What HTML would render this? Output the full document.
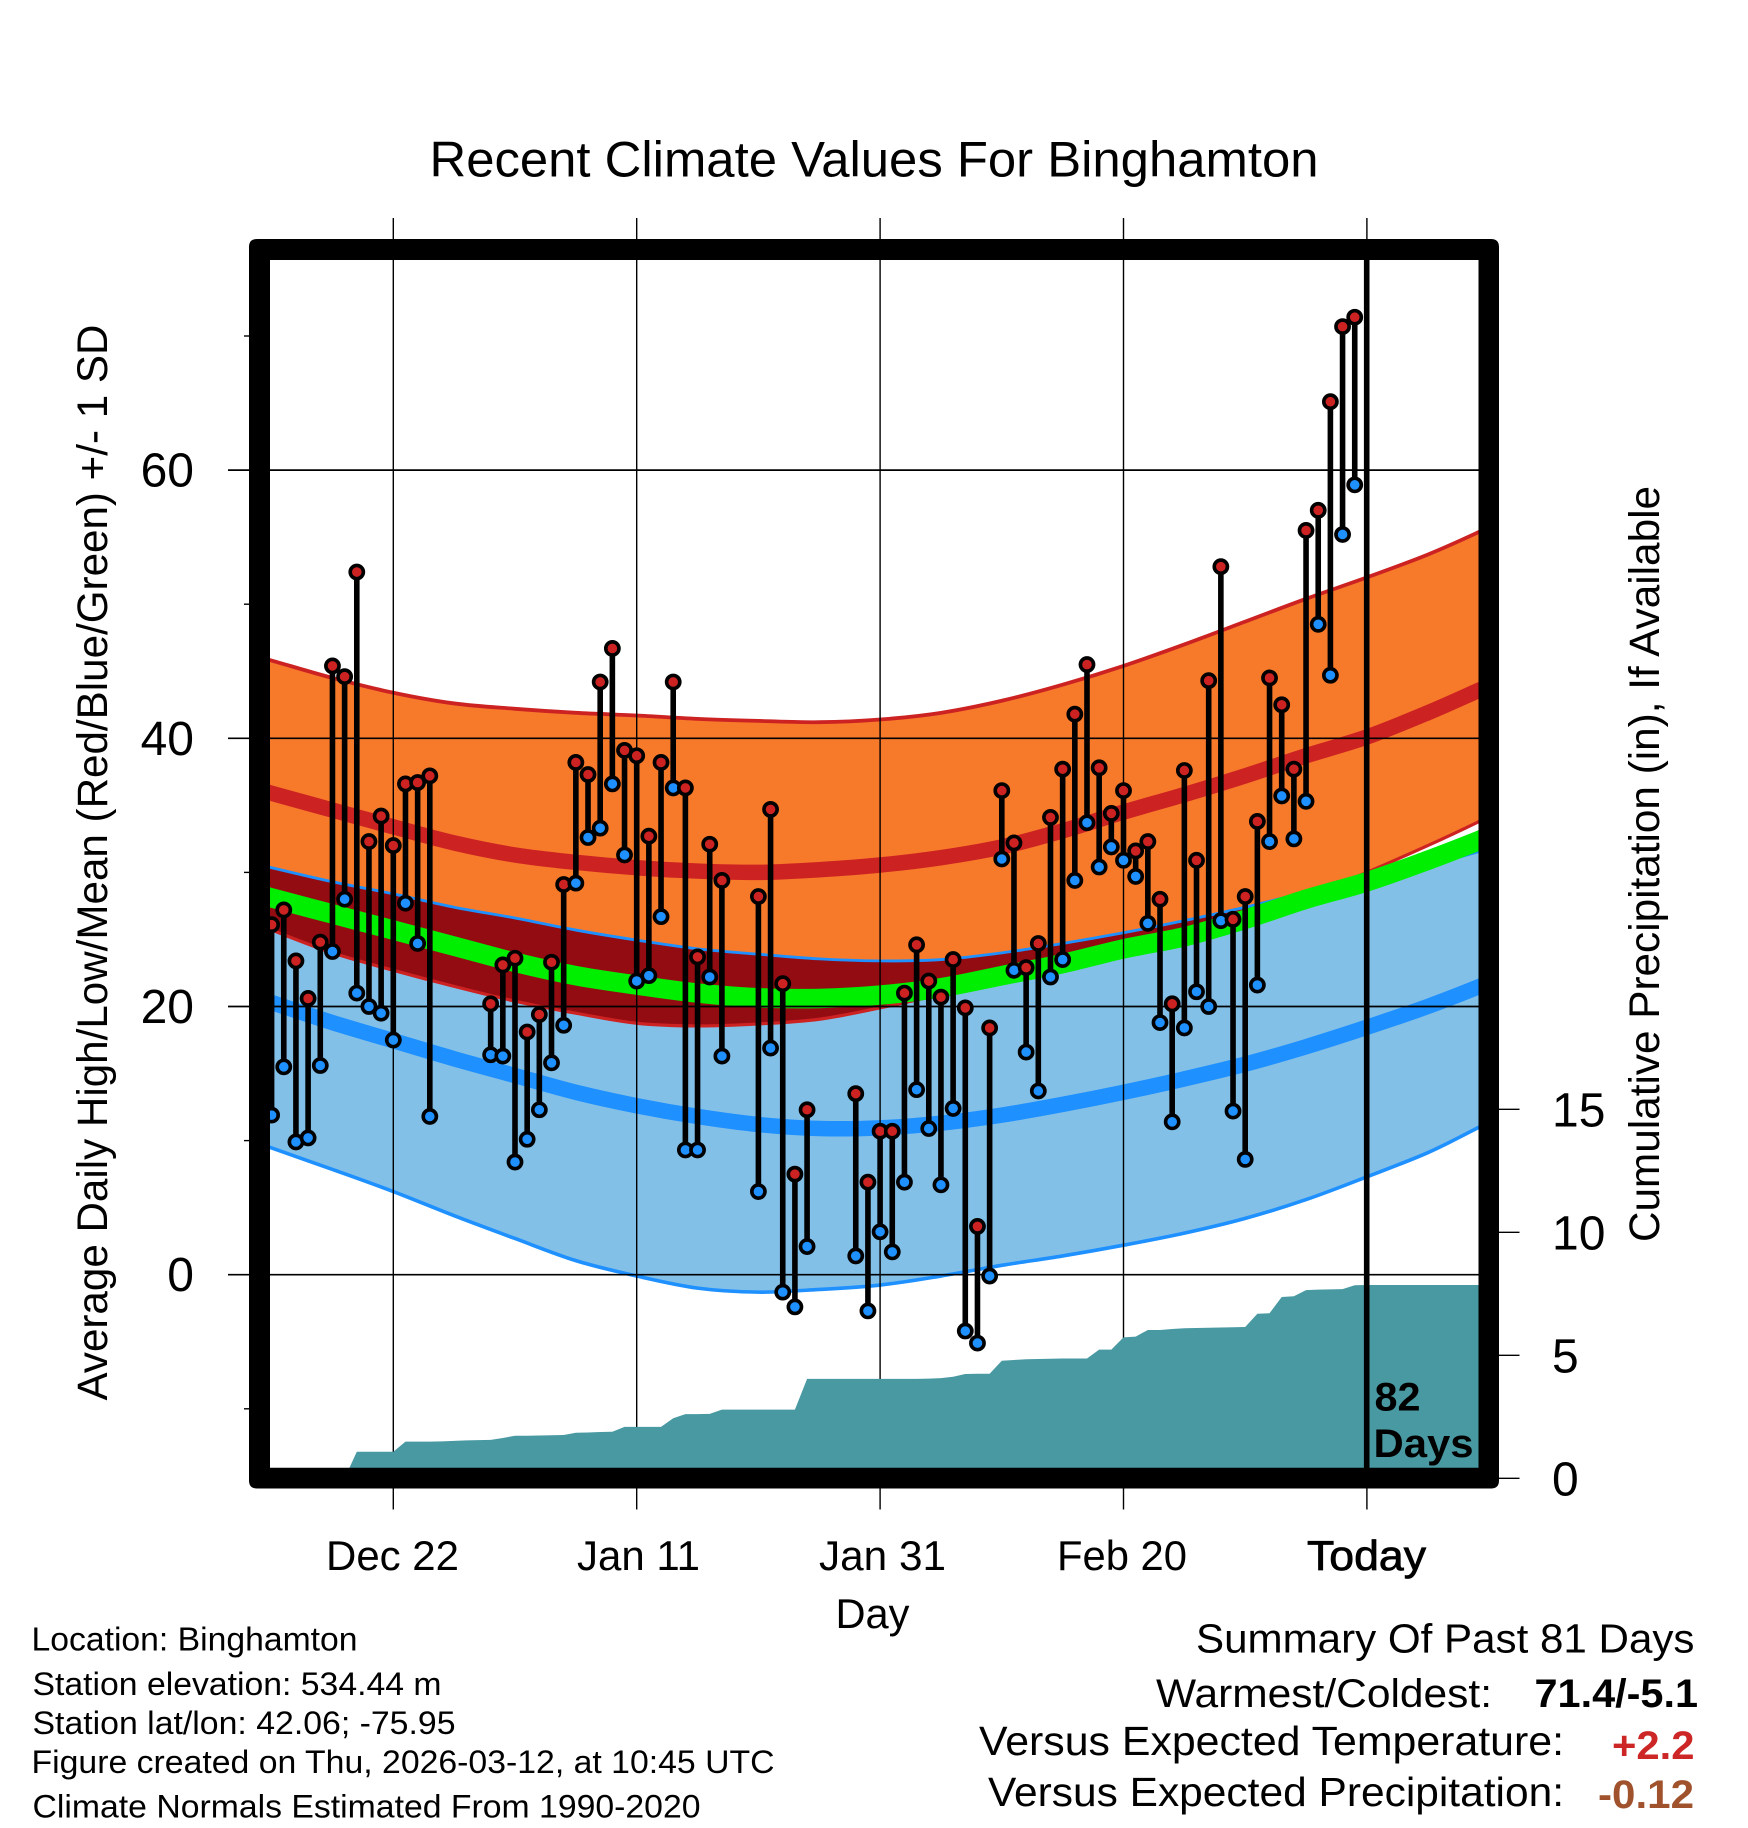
<!DOCTYPE html>
<html lang="en">
<head>
<meta charset="utf-8">
<title>Recent Climate Values For Binghamton</title>
<style>
html,body{margin:0;padding:0;background:#fff;}
svg{display:block;font-family:"Liberation Sans",Arial,Helvetica,sans-serif;}
</style>
</head>
<body>
<svg id="chart" xmlns="http://www.w3.org/2000/svg" width="1748" height="1828" viewBox="0 0 1748 1828">
  <rect x="0" y="0" width="1748" height="1828" fill="#ffffff"/>
  <defs><clipPath id="plot-clip"><rect x="260" y="250" width="1229" height="1228"/></clipPath></defs>
  <g id="bands" clip-path="url(#plot-clip)"></g>
  <g id="grid"></g>
  <g id="precip" clip-path="url(#plot-clip)"></g>
  <g id="marks" clip-path="url(#plot-clip)"></g>
  <line x1="1366.7" x2="1366.7" y1="260" y2="1468" stroke="#000" stroke-width="5.6"/>
  <path fill="#000" fill-rule="evenodd" d="M257 239H1491Q1499 239 1499 247V1480.5Q1499 1488.5 1491 1488.5H257Q249 1488.5 249 1480.5V247Q249 239 257 239ZM270 260V1467.7H1478.5V260Z"/>
  <g id="labels"></g>

  <text x="392.5" y="1570" font-size="42" text-anchor="middle" textLength="133" lengthAdjust="spacingAndGlyphs">Dec 22</text>
  <text x="638.5" y="1570" font-size="42" text-anchor="middle" textLength="123" lengthAdjust="spacingAndGlyphs">Jan 11</text>
  <text x="882.5" y="1570" font-size="42" text-anchor="middle" textLength="127" lengthAdjust="spacingAndGlyphs">Jan 31</text>
  <text x="1122" y="1570" font-size="42" text-anchor="middle" textLength="130" lengthAdjust="spacingAndGlyphs">Feb 20</text>
  <text x="1366.5" y="1570" font-size="42" text-anchor="middle" textLength="119" lengthAdjust="spacingAndGlyphs" stroke="#000" stroke-width="0.8">Today</text>

  <text x="874" y="176.5" font-size="50" text-anchor="middle" textLength="889" lengthAdjust="spacingAndGlyphs">Recent Climate Values For Binghamton</text>
  <text x="872.5" y="1628" font-size="42" text-anchor="middle" textLength="74" lengthAdjust="spacingAndGlyphs">Day</text>
  <text transform="translate(107,862.5) rotate(-90)" font-size="43" text-anchor="middle" textLength="1076" lengthAdjust="spacingAndGlyphs">Average Daily High/Low/Mean (Red/Blue/Green) +/- 1 SD</text>
  <text transform="translate(1659,864) rotate(-90)" font-size="43" text-anchor="middle" textLength="756" lengthAdjust="spacingAndGlyphs">Cumulative Precipitation (in), If Available</text>

  <text x="1374.5" y="1410.7" font-size="40" font-weight="bold" textLength="46" lengthAdjust="spacingAndGlyphs">82</text>
  <text x="1373.5" y="1457" font-size="40" font-weight="bold" textLength="100" lengthAdjust="spacingAndGlyphs">Days</text>

  <text x="31.5" y="1650.7" font-size="33" textLength="326" lengthAdjust="spacingAndGlyphs">Location: Binghamton</text>
  <text x="32.5" y="1695" font-size="32" textLength="409" lengthAdjust="spacingAndGlyphs">Station elevation: 534.44 m</text>
  <text x="32.5" y="1734" font-size="32" textLength="423" lengthAdjust="spacingAndGlyphs">Station lat/lon: 42.06; -75.95</text>
  <text x="31.5" y="1773" font-size="32" textLength="743" lengthAdjust="spacingAndGlyphs">Figure created on Thu, 2026-03-12, at 10:45 UTC</text>
  <text x="32.5" y="1817.7" font-size="32" textLength="668" lengthAdjust="spacingAndGlyphs">Climate Normals Estimated From 1990-2020</text>

  <text x="1196" y="1652.7" font-size="41" textLength="498.5" lengthAdjust="spacingAndGlyphs">Summary Of Past 81 Days</text>
  <text x="1156" y="1707" font-size="40" textLength="336" lengthAdjust="spacingAndGlyphs">Warmest/Coldest:</text>
  <text x="1534.5" y="1707" font-size="40" font-weight="bold" textLength="163.5" lengthAdjust="spacingAndGlyphs">71.4/-5.1</text>
  <text x="979" y="1755" font-size="41" textLength="585" lengthAdjust="spacingAndGlyphs">Versus Expected Temperature:</text>
  <text x="1612" y="1759" font-size="40" font-weight="bold" fill="#CD2626" textLength="82.5" lengthAdjust="spacingAndGlyphs">+2.2</text>
  <text x="988" y="1806" font-size="41" textLength="576" lengthAdjust="spacingAndGlyphs">Versus Expected Precipitation:</text>
  <text x="1598" y="1808" font-size="40" font-weight="bold" fill="#A0522D" textLength="96" lengthAdjust="spacingAndGlyphs">-0.12</text>
</svg>
<script>
// ---- data ----
const xTickDays = [10, 30, 50, 70, 90];
const yMajorTicks = [60, 40, 20, 0];
const yMinorTicks = [70, 50, 30, 10, -10];
const precipTicks = [0, 5, 10, 15];

const dailyHighs = [26.1,27.2,23.4,20.6,24.8,45.4,44.6,52.4,32.3,34.2,32.0,36.6,36.7,37.2,null,null,null,null,20.2,23.1,23.6,18.1,19.4,23.3,29.1,38.2,37.3,44.2,46.7,39.1,38.7,32.7,38.2,44.2,36.3,23.7,32.1,29.4,null,null,28.2,34.7,21.7,7.5,12.3,null,null,null,13.5,6.9,10.7,10.7,21.0,24.6,21.9,20.7,23.5,19.9,3.6,18.4,36.1,32.2,22.9,24.7,34.1,37.7,41.8,45.5,37.8,34.4,36.1,31.6,32.3,28.0,20.2,37.6,30.9,44.3,52.8,26.5,28.2,33.8,44.5,42.5,37.7,55.5,57.0,65.1,70.7,71.4];
const dailyLows = [11.9,15.5,9.9,10.2,15.6,24.1,28.0,21.0,20.0,19.5,17.5,27.7,24.7,11.8,null,null,null,null,16.4,16.3,8.4,10.1,12.3,15.8,18.6,29.2,32.6,33.3,36.6,31.3,21.9,22.3,26.7,36.3,9.3,9.3,22.2,16.3,null,null,6.2,16.9,-1.3,-2.4,2.1,null,null,null,1.4,-2.7,3.2,1.7,6.9,13.8,10.9,6.7,12.4,-4.2,-5.1,-0.1,31.0,22.7,16.6,13.7,22.2,23.5,29.4,33.7,30.4,31.9,30.9,29.7,26.2,18.8,11.4,18.4,21.1,20.0,26.4,12.2,8.6,21.6,32.3,35.7,32.5,35.3,48.5,44.7,55.2,58.9];
const cumulativePrecip = [0,0,0,0,0,0,0,1.08,1.08,1.08,1.08,1.49,1.49,1.49,1.50,1.52,1.54,1.55,1.56,1.64,1.73,1.73,1.74,1.75,1.76,1.85,1.86,1.88,1.89,2.09,2.09,2.09,2.09,2.44,2.61,2.61,2.62,2.79,2.79,2.79,2.79,2.79,2.79,2.79,4.04,4.04,4.04,4.04,4.04,4.04,4.04,4.04,4.04,4.04,4.05,4.07,4.13,4.24,4.25,4.25,4.78,4.81,4.84,4.85,4.86,4.87,4.87,4.87,5.23,5.23,5.73,5.76,6.03,6.03,6.07,6.10,6.11,6.12,6.13,6.14,6.15,6.69,6.71,7.37,7.40,7.65,7.67,7.68,7.69,7.85,7.86,7.86];

const normalDays = [-1,0,5,10,15,20,25,30,35,40,45,50,55,60,65,70,75,80,85,90,95,99,100];
const highPlusSD = [46.0,45.8,44.5,43.4,42.6,42.2,41.9,41.7,41.45,41.3,41.2,41.4,41.9,42.8,44.0,45.4,47.0,48.7,50.4,52.0,53.7,55.3,55.8];
const highMean = [36.2,35.9,34.65,33.4,32.2,31.3,30.75,30.35,30.1,30.0,30.2,30.55,31.1,31.9,33.1,34.5,35.8,37.2,38.7,40.1,41.9,43.5,43.9];
const highMinusSD = [26.0,25.7,24.0,22.7,21.5,20.4,19.5,18.75,18.55,18.7,19.05,19.9,20.9,22.0,23.2,24.4,25.5,26.7,28.1,30.0,32.0,33.7,34.2];
const lowPlusSD = [30.6,30.35,29.3,28.4,27.4,26.6,25.7,24.95,24.3,23.9,23.55,23.4,23.5,24.0,24.7,25.5,26.4,27.4,28.5,29.4,30.5,31.5,31.8];
const lowMean = [20.6,20.3,18.8,17.45,16.1,14.85,13.6,12.6,11.8,11.2,10.9,10.95,11.3,11.9,12.7,13.6,14.6,15.7,17.0,18.45,20.0,21.4,21.8];
const lowMinusSD = [9.8,9.45,7.85,6.2,4.4,2.7,1.05,-0.1,-1.0,-1.3,-1.1,-0.77,-0.1,0.7,1.4,2.2,3.1,4.2,5.6,7.3,9.1,10.9,11.4];
const meanNormal = [28.4,28.1,26.9,25.7,24.5,23.3,22.3,21.6,21.0,20.65,20.6,20.85,21.4,22.3,23.2,24.3,25.2,26.5,28.0,29.3,30.9,32.3,32.7];

// ---- axis functions ----
function xOf(day){ return 393.3 + 12.17 * (day - 10); }
function yOf(temp){ return 1274.7 - 13.41 * temp; }
function yPrecip(inches){ return 1478.3 - 24.6 * inches; }

const NS = "http://www.w3.org/2000/svg";
function make(tag, parent, attrs){
  const el = document.createElementNS(NS, tag);
  for (const k in attrs) el.setAttribute(k, attrs[k]);
  parent.appendChild(el);
  return el;
}
function pts(days, vals, yFn){ return days.map((d, i) => [xOf(d), yFn(vals[i])]); }
function smooth(p, move){
  let s = (move ? "M" : "L") + p[0][0].toFixed(2) + " " + p[0][1].toFixed(2);
  for (let i = 0; i < p.length - 1; i++){
    const a = p[Math.max(i - 1, 0)], b = p[i], c = p[i + 1], e = p[Math.min(i + 2, p.length - 1)];
    const c1x = b[0] + (c[0] - a[0]) / 6, c1y = b[1] + (c[1] - a[1]) / 6;
    const c2x = c[0] - (e[0] - b[0]) / 6, c2y = c[1] - (e[1] - b[1]) / 6;
    s += "C" + c1x.toFixed(2) + " " + c1y.toFixed(2) + " " + c2x.toFixed(2) + " " + c2y.toFixed(2) + " " + c[0].toFixed(2) + " " + c[1].toFixed(2);
  }
  return s;
}
function bandPath(upper, lower){
  const top = pts(normalDays, upper, yOf);
  const bot = pts(normalDays, lower, yOf).reverse();
  return smooth(top, true) + smooth(bot, false) + "Z";
}
function linePath(vals){ return smooth(pts(normalDays, vals, yOf), true); }

const bands = document.getElementById("bands");
const grid = document.getElementById("grid");
const precip = document.getElementById("precip");
const marks = document.getElementById("marks");
const labels = document.getElementById("labels");

// ---- bands ----
const lowBand = make("path", bands, {d: bandPath(lowPlusSD, lowMinusSD), fill: "#83C0E8"});


const highBand = make("path", bands, {d: bandPath(highPlusSD, highMinusSD), fill: "#F77A2B"});


const overlapLower = lowPlusSD.map((v, i) => Math.min(v, highMinusSD[i]));
const overlap = make("path", bands, {d: bandPath(lowPlusSD, overlapLower), fill: "#930C12"});



const highUpperLine = make("path", bands, {d: linePath(highPlusSD), fill: "none", stroke: "#CD2222", "stroke-width": 3.8});


const highLowerLine = make("path", bands, {d: linePath(highMinusSD), fill: "none", stroke: "#CD2222", "stroke-width": 3.2});


const highMeanLine = make("path", bands, {d: linePath(highMean), fill: "none", stroke: "#CD2222", "stroke-width": 15.5});


const lowUpperLine = make("path", bands, {d: linePath(lowPlusSD), fill: "none", stroke: "#1E90FF", "stroke-width": 2.8});


const lowLowerLine = make("path", bands, {d: linePath(lowMinusSD), fill: "none", stroke: "#1E90FF", "stroke-width": 3.6});


const lowMeanLine = make("path", bands, {d: linePath(lowMean), fill: "none", stroke: "#1E90FF", "stroke-width": 15.5});


const meanLine = make("path", bands, {d: linePath(meanNormal), fill: "none", stroke: "#00EE00", "stroke-width": 19.5});



// ---- grid + ticks ----
xTickDays.forEach(d => {
  const line = make("line", grid, {x1: xOf(d), x2: xOf(d), y1: 218, y2: 1509.5, stroke: "#000", "stroke-width": 1.4});
  
  
});
yMajorTicks.forEach(v => {
  const line = make("line", grid, {x1: 228, x2: 1478.5, y1: yOf(v), y2: yOf(v), stroke: "#000", "stroke-width": 1.7});
  
  
  const t = make("text", labels, {x: 194, y: yOf(v) + 16.5, "font-size": 48, "text-anchor": "end"});
  
  
  t.textContent = String(v);
});
yMinorTicks.forEach(v => {
  const line = make("line", grid, {x1: 244, x2: 250, y1: yOf(v), y2: yOf(v), stroke: "#000", "stroke-width": 1.4});
  
  
});
precipTicks.forEach(v => {
  const line = make("line", grid, {x1: 1498, x2: 1519.5, y1: yPrecip(v), y2: yPrecip(v), stroke: "#000", "stroke-width": 1.4});
  
  
  const t = make("text", labels, {x: 1552, y: yPrecip(v) + 17, "font-size": 48});
  
  
  t.textContent = String(v);
});

// ---- precipitation area ----
let precipD = "M" + xOf(0) + " " + yPrecip(0);
cumulativePrecip.forEach((p, d) => { precipD += "L" + xOf(d).toFixed(2) + " " + yPrecip(p).toFixed(2); });
const lastPrecip = cumulativePrecip[cumulativePrecip.length - 1];
precipD += "L" + xOf(100) + " " + yPrecip(lastPrecip) + "L" + xOf(100) + " " + yPrecip(0) + "Z";
const precipArea = make("path", precip, {d: precipD, fill: "#4899A2"});



// ---- daily marks ----
dailyHighs.forEach((hi, d) => {
  const lo = dailyLows[d];
  if (hi === null || lo === null) return;
  const stem = make("line", marks, {x1: xOf(d), x2: xOf(d), y1: yOf(hi), y2: yOf(lo), stroke: "#000", "stroke-width": 5.6});
  
  
  const loDot = make("circle", marks, {cx: xOf(d), cy: yOf(lo), r: 6.6, fill: "#1E90FF", stroke: "#000", "stroke-width": 3.6});
  
  
  const hiDot = make("circle", marks, {cx: xOf(d), cy: yOf(hi), r: 6.6, fill: "#CD2222", stroke: "#000", "stroke-width": 3.6});
  
  
});
</script>
</body>
</html>
